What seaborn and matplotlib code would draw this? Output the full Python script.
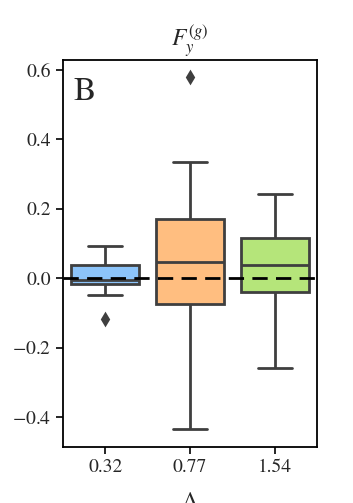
import numpy as np
import matplotlib
matplotlib.use("Agg")
import matplotlib.pyplot as plt
import pandas as pd
import seaborn as sns

# categories (Lambda) and five-number summaries
lambdas = ["0.32", "0.77", "1.54"]
# lower whisker, Q1, median, Q3, upper whisker
box_032 = [-0.049, -0.017, -0.006, 0.037, 0.092]
box_077 = [-0.435, -0.075, 0.046, 0.170, 0.334]
box_154 = [-0.259, -0.040, 0.037, 0.115, 0.242]
# outliers
out_lam = ["0.32", "0.77"]
out_val = [-0.118, 0.579]

colors = ["#8cc4fa", "#ffbe80", "#b5e57a"]

sns.set_style("ticks")
plt.rcParams['font.family'] = ['STIXGeneral', 'DejaVu Serif']
plt.rcParams['mathtext.fontset'] = 'stix'

df = pd.DataFrame({
    "lam": ["0.32"] * 5 + ["0.77"] * 5 + ["1.54"] * 5,
    "F": box_032 + box_077 + box_154,
})
df_out = pd.DataFrame({"lam": out_lam, "F": out_val})

fig = plt.figure(figsize=(3.53, 5.03), dpi=100)
ax = fig.add_axes([0.178, 0.111, 0.72, 0.770])

sns.boxplot(data=df, x="lam", y="F", order=lambdas, hue="lam", hue_order=lambdas,
            palette=colors, saturation=1, legend=False, whis=10, showfliers=False,
            width=0.8, linewidth=2.0, linecolor="#3f3f3f", ax=ax)
sns.stripplot(data=df_out, x="lam", y="F", order=lambdas, color="#3f3f3f",
              marker="d", size=8, jitter=False, ax=ax)

ax.axhline(0, color="black", ls=(0, (5.5, 3)), lw=2, zorder=5)

ax.set_ylim(-0.486, 0.629)
ax.set_yticks([-0.4, -0.2, 0.0, 0.2, 0.4, 0.6])
ax.set_yticklabels(["$-$0.4", "$-$0.2", "0.0", "0.2", "0.4", "0.6"])
ax.tick_params(labelsize=14, length=5, width=1.2, color="black")
ax.set_ylabel("")
ax.set_xlabel(r"$\Lambda$", fontsize=17, labelpad=11)
ax.set_title(r"$F_y^{(g)}$", fontsize=17, pad=10)
for s in ax.spines.values():
    s.set_color("black")
    s.set_linewidth(1.3)
ax.text(0.04, 0.955, "B", transform=ax.transAxes, fontsize=24, va="top", ha="left")

fig.savefig("out.png", dpi=100)
